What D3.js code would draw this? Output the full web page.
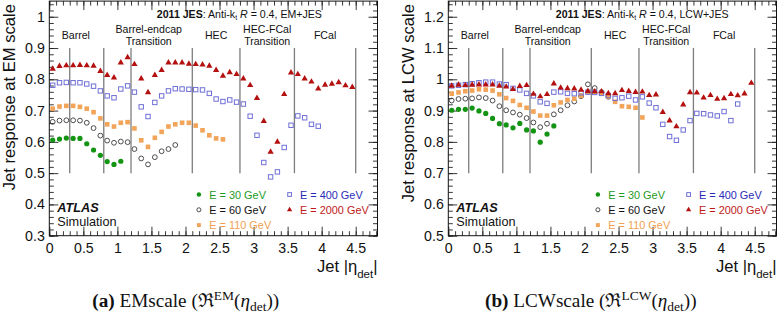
<!DOCTYPE html>
<html>
<head>
<meta charset="utf-8">
<script src="https://cdn.jsdelivr.net/npm/d3@7"></script>
<style>
  body { margin: 0; background: #fff; }
  svg { display: block; }
</style>
</head>
<body>
<script>
// --- data ---
const ETA = [0.05, 0.15, 0.25, 0.35, 0.45, 0.55, 0.65, 0.75, 0.85, 0.95,
  1.05, 1.15, 1.25, 1.35, 1.45, 1.55, 1.65, 1.75, 1.85, 1.95,
  2.05, 2.15, 2.25, 2.35, 2.45, 2.55, 2.65, 2.75, 2.85, 2.95,
  3.05, 3.15, 3.25, 3.35, 3.45, 3.55, 3.65, 3.75, 3.85, 3.95,
  4.05, 4.15, 4.25, 4.35, 4.45];

const ENERGIES = ["30", "60", "110", "400", "2000"];

// EM scale response
const EM_30 = [0.606, 0.609, 0.612, 0.611, 0.611, 0.594, 0.574, 0.557, 0.537, 0.528, 0.538];
const EM_60 = [0.664, 0.668, 0.669, 0.669, 0.668, 0.661, 0.644, 0.620, 0.604, 0.597,
  0.601, 0.599, 0.577, 0.547, 0.528, 0.551, 0.570, 0.577, 0.590];
const EM_110 = [0.706, 0.713, 0.715, 0.715, 0.712, 0.706, 0.695, 0.675, 0.656, 0.649,
  0.661, 0.663, 0.643, 0.605, 0.584, 0.613, 0.632, 0.649, 0.656, 0.661,
  0.661, 0.652, 0.637, 0.621, 0.611, 0.608];
const EM_400 = [0.781, 0.789, 0.790, 0.789, 0.789, 0.785, 0.778, 0.763, 0.747, 0.741,
  0.769, 0.779, 0.759, 0.712, 0.681, 0.726, 0.747, 0.763, 0.770, 0.769,
  0.768, 0.767, 0.766, 0.755, 0.737, 0.729, 0.734, 0.727, 0.721, 0.682,
  0.621, 0.534, 0.488, 0.504, 0.582, 0.653, 0.683, 0.677, 0.656, 0.650];
const EM_2000 = [0.833, 0.842, 0.844, 0.844, 0.845, 0.844, 0.843, 0.826, 0.813, 0.805,
  0.853, 0.870, 0.848, 0.802, 0.758, 0.813, 0.829, 0.853, 0.853, 0.853,
  0.849, 0.848, 0.847, 0.843, 0.829, 0.811, 0.822, 0.816, 0.802, 0.781,
  0.740, 0.666, 0.568, 0.600, 0.752, 0.821, 0.816, 0.802, 0.792, 0.770,
  0.782, 0.785, 0.790, 0.780, 0.775];

// LCW scale response
const LCW_30 = [0.901, 0.904, 0.904, 0.908, 0.899, 0.891, 0.875, 0.858, 0.854, 0.845,
  0.859, 0.838, 0.835, 0.799, 0.825, 0.851];
const LCW_60 = [0.932, 0.937, 0.938, 0.939, 0.942, 0.940, 0.932, 0.914, 0.901, 0.894,
  0.887, 0.876, 0.862, 0.847, 0.858, 0.888, 0.901, 0.917, 0.929, 0.946,
  0.984, 0.972, 0.959, 0.944];
const LCW_110 = [0.954, 0.958, 0.962, 0.964, 0.968, 0.967, 0.964, 0.952, 0.940, 0.931,
  0.918, 0.909, 0.897, 0.884, 0.884, 0.917, 0.926, 0.934, 0.938, 0.947,
  0.959, 0.959, 0.956, 0.945, 0.928, 0.914, 0.912, 0.909, 0.878];
const LCW_400 = [0.979, 0.981, 0.983, 0.986, 0.989, 0.991, 0.991, 0.985, 0.983, 0.971,
  0.966, 0.955, 0.947, 0.928, 0.923, 0.959, 0.960, 0.955, 0.954, 0.957,
  0.959, 0.958, 0.955, 0.948, 0.939, 0.941, 0.946, 0.934, 0.944, 0.924,
  0.909, 0.856, 0.817, 0.805, 0.838, 0.868, 0.891, 0.890, 0.886, 0.883,
  0.897, 0.868, 0.921];
const LCW_2000 = [0.979, 0.982, 0.981, 0.982, 0.983, 0.983, 0.983, 0.979, 0.976, 0.968,
  0.978, 0.981, 0.953, 0.945, 0.952, 0.986, 0.973, 0.971, 0.970, 0.966,
  0.962, 0.961, 0.961, 0.955, 0.955, 0.965, 0.962, 0.959, 0.960, 0.949,
  0.951, 0.895, 0.868, 0.849, 0.919, 0.958, 0.957, 0.941, 0.949, 0.937,
  0.939, 0.952, 0.948, 0.954, 0.988];

// detector regions
const BOUNDARIES = [0.3, 0.8, 1.2, 2.1, 2.8, 3.6, 4.5];
const REGION_NAMES = [["Barrel"], ["Barrel-endcap", "Transition"], ["HEC"], ["HEC-FCal", "Transition"], ["FCal"]];
const REGION_ETA = [0.39, 1.46, 2.45, 3.2, 4.05];

const X_TICKS = [0, 0.5, 1, 1.5, 2, 2.5, 3, 3.5, 4, 4.5];
const EM_Y_TICKS = [0.3, 0.4, 0.5, 0.6, 0.7, 0.8, 0.9, 1];
const LCW_Y_TICKS = [0.5, 0.6, 0.7, 0.8, 0.9, 1, 1.1, 1.2];

// --- styling ---
const W = 777, H = 314;
const FRAME_W = 328.2;
const TOP = 1.1, BOTTOM = 235.7;
const SANS = "'Liberation Sans', Arial, Helvetica, sans-serif";
const SERIF = "'Liberation Serif', 'Times New Roman', serif";

const STYLE = {
  "30":   { mark: "dot",    fill: "#139413", stroke: "none",    text: "#1f9a1f" },
  "60":   { mark: "circle", fill: "none",    stroke: "#3a3a3a", text: "#111" },
  "110":  { mark: "square", fill: "#f2a458", stroke: "none",    text: "#f0a050" },
  "400":  { mark: "osq",    fill: "none",    stroke: "#6f6fd6", text: "#2a2ab8" },
  "2000": { mark: "tri",    fill: "#b3100f", stroke: "none",    text: "#c01a1a" },
};

const svg = d3.select("body").append("svg")
  .attr("width", W).attr("height", H)
  .attr("viewBox", `0 0 ${W} ${H}`)
  .style("font-family", SANS);

svg.append("rect").attr("width", W).attr("height", H).attr("fill", "white");

function drawMarker(g, key, cx, cy, scale) {
  const s = STYLE[key];
  const k = scale || 1;
  if (s.mark === "dot") {
    g.append("circle").attr("cx", cx).attr("cy", cy).attr("r", 2.6 * k).attr("fill", s.fill);
  } else if (s.mark === "circle") {
    g.append("circle").attr("cx", cx).attr("cy", cy).attr("r", 2.4 * k)
      .attr("fill", "none").attr("stroke", s.stroke).attr("stroke-width", 0.9);
  } else if (s.mark === "square") {
    const a = 4.6 * k;
    g.append("rect").attr("x", cx - a / 2).attr("y", cy - a / 2).attr("width", a).attr("height", a).attr("fill", s.fill);
  } else if (s.mark === "osq") {
    const a = 4.4 * k;
    g.append("rect").attr("x", cx - a / 2).attr("y", cy - a / 2).attr("width", a).attr("height", a)
      .attr("fill", "none").attr("stroke", s.stroke).attr("stroke-width", 1);
  } else {
    g.append("path").attr("transform", `translate(${cx},${cy})`)
      .attr("d", d3.symbol(d3.symbolTriangle, 17 * k * k)()).attr("fill", s.fill);
  }
}

function drawPanel(p) {
  const x = d3.scaleLinear().domain([0, 4.82]).range([p.x0, p.x0 + FRAME_W]);
  const y = d3.scaleLinear().domain(p.yDomain).range([BOTTOM, TOP]);
  const g = svg.append("g");
  const x1 = p.x0 + FRAME_W;

  // ticks, ROOT style (inside, all four sides)
  const minorX = d3.range(0, 4.81, 0.1);
  const minorY = d3.range(p.yDomain[0], p.yDomain[1] + 1e-6, 0.02);

  const axes = [
    { a: d3.axisBottom(x), pos: `translate(0,${BOTTOM})`, major: X_TICKS, minor: minorX, lab: true },
    { a: d3.axisTop(x), pos: `translate(0,${TOP})`, major: X_TICKS, minor: minorX, lab: false },
    { a: d3.axisLeft(y), pos: `translate(${p.x0},0)`, major: p.yTicks, minor: minorY, lab: true },
    { a: d3.axisRight(y), pos: `translate(${x1},0)`, major: p.yTicks, minor: minorY, lab: false },
  ];
  for (const ax of axes) {
    g.append("g").attr("transform", ax.pos)
      .call(ax.a.tickValues(ax.minor).tickSize(-4.5).tickFormat(""))
      .call((s) => s.select(".domain").remove())
      .call((s) => s.selectAll("line").attr("stroke", "#222").attr("stroke-width", 0.9));
    const big = ax.a.tickValues(ax.major).tickSize(-9)
      .tickPadding(ax === axes[0] ? 7.5 : 4.5)
      .tickFormat(ax.lab ? d3.format("~g") : "");
    g.append("g").attr("transform", ax.pos)
      .call(big)
      .call((s) => s.select(".domain").remove())
      .call((s) => s.selectAll("line").attr("stroke", "#222").attr("stroke-width", 0.9))
      .call((s) => s.selectAll("text").attr("font-family", SANS).attr("font-size", 14.2).attr("fill", "#111"));
  }

  g.append("rect").attr("x", p.x0).attr("y", TOP).attr("width", FRAME_W).attr("height", BOTTOM - TOP)
    .attr("fill", "none").attr("stroke", "#111").attr("stroke-width", 1);

  // region boundaries
  g.selectAll(".bound").data(BOUNDARIES).join("line")
    .attr("x1", (d) => x(d)).attr("x2", (d) => x(d))
    .attr("y1", y(p.lineRange[0])).attr("y2", y(p.lineRange[1]))
    .attr("stroke", "#7d7d7d").attr("stroke-width", 1.3);

  // region names
  REGION_NAMES.forEach((lines, i) => {
    const t = g.append("text").attr("text-anchor", "middle").attr("font-size", 10.6).attr("fill", "#111");
    const ys = lines.length === 1 ? [39] : [33.3, 45];
    lines.forEach((ln, j) => t.append("tspan").attr("x", x(REGION_ETA[i])).attr("y", ys[j]).text(ln));
  });

  // header text
  const hdr = g.append("text").attr("x", p.x0 + 107.5).attr("y", 17.7).attr("font-size", 10.6).attr("fill", "#111");
  hdr.append("tspan").attr("font-weight", "bold").text("2011 JES");
  hdr.append("tspan").text(": Anti-k");
  hdr.append("tspan").attr("font-size", 7).attr("dy", 2.5).text("t");
  hdr.append("tspan").attr("dy", -2.5).text(" ");
  hdr.append("tspan").attr("font-style", "italic").text("R");
  hdr.append("tspan").text(` = 0.4, ${p.scheme}+JES`);

  // data points
  const pts = g.append("g");
  p.series.forEach((vals, i) => {
    const key = ENERGIES[i];
    vals.forEach((v, j) => drawMarker(pts, key, x(ETA[j]), y(v)));
  });

  // legend
  const leg = g.append("g");
  const cols = [[0, 1, 2], [3, 4]];
  cols.forEach((col, c) => {
    col.forEach((idx, r) => {
      const key = ENERGIES[idx];
      const mx = p.x0 + (c === 0 ? 149.6 : 240.3);
      const my = 194.5 + r * 15.3;
      drawMarker(leg, key, mx, my, 0.85);
      leg.append("text").attr("x", mx + 10.4).attr("y", my + 4.1)
        .attr("font-size", 10.9).attr("fill", STYLE[key].text)
        .text(`E = ${key} GeV`);
    });
  });

  // ATLAS label
  g.append("text").attr("x", p.x0 + 8).attr("y", 211.7)
    .attr("font-size", 12.7).attr("font-weight", "bold").attr("font-style", "italic").attr("fill", "#111")
    .text("ATLAS");
  g.append("text").attr("x", p.x0 + 8).attr("y", 225.6)
    .attr("font-size", 12.7).attr("fill", "#111").text("Simulation");

  // axis titles
  g.append("text").attr("transform", `translate(${p.x0 - 34},4) rotate(-90)`)
    .attr("text-anchor", "end").attr("font-size", 16.6).attr("fill", "#111")
    .text(`Jet response at ${p.scheme} scale`);

  const xt = g.append("text").attr("x", x1).attr("y", 271.5).attr("text-anchor", "end")
    .attr("font-size", 16.6).attr("fill", "#111");
  xt.append("tspan").text("Jet |η");
  xt.append("tspan").attr("font-size", 11.5).attr("dy", 6).text("det");
  xt.append("tspan").attr("dy", -6).text("|");

  // caption
  const cap = svg.append("text").attr("x", p.capX).attr("y", 306.5)
    .attr("font-family", SERIF).attr("font-size", 19.2).attr("fill", "#111");
  cap.append("tspan").attr("font-weight", "bold").text(`(${p.letter})`);
  cap.append("tspan").text(` ${p.scheme}scale (\u211C`);
  cap.append("tspan").attr("font-size", 13.5).attr("dy", -7).text(p.scheme);
  cap.append("tspan").attr("dy", 7).text("(");
  cap.append("tspan").attr("font-style", "italic").text("η");
  cap.append("tspan").attr("font-size", 13.5).attr("dy", 4).text("det");
  cap.append("tspan").attr("dy", -4).text("))");
}

drawPanel({
  x0: 49.3, yDomain: [0.3, 1.05], yTicks: EM_Y_TICKS, lineRange: [0.5, 0.9],
  scheme: "EM", letter: "a", capX: 92.3,
  series: [EM_30, EM_60, EM_110, EM_400, EM_2000],
});
drawPanel({
  x0: 448.3, yDomain: [0.5, 1.25], yTicks: LCW_Y_TICKS, lineRange: [0.7, 1.1],
  scheme: "LCW", letter: "b", capX: 485,
  series: [LCW_30, LCW_60, LCW_110, LCW_400, LCW_2000],
});
</script>
</body>
</html>
